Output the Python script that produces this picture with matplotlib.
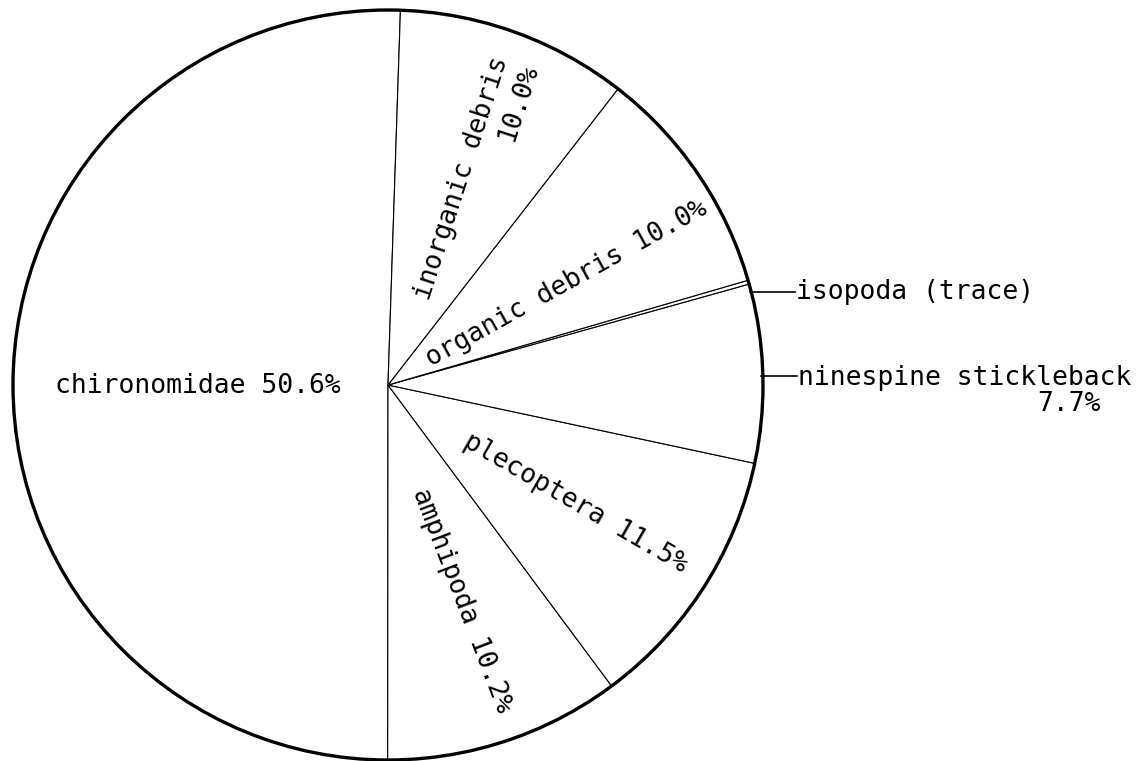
import matplotlib
matplotlib.use("Agg")
import matplotlib.pyplot as plt
from matplotlib.patches import Circle

# diet composition (percent), drawn counterclockwise from near the top
categories = ["chironomidae", "amphipoda", "plecoptera", "ninespine stickleback",
              "isopoda", "organic debris", "inorganic debris"]
percents = [50.6, 10.2, 11.5, 7.7, 0.17, 10.0, 10.0]
pct_labels = ["50.6%", "10.2%", "11.5%", "7.7%", "(trace)", "10.0%", "10.0%"]

plt.rcParams['font.family'] = ['DejaVu Sans Mono', 'DejaVu Sans']
fs = 19

fig = plt.figure(figsize=(11.42, 7.61), dpi=100)
ax = fig.add_axes([0, 0, 1, 1])

cx, cy, r = 388, 385, 375
# y axis is inverted below, so clockwise in data = counterclockwise on screen
ax.pie(percents, center=(cx, cy), radius=r, startangle=-88.1, counterclock=False,
       colors=['white'] * len(percents),
       wedgeprops=dict(edgecolor='black', linewidth=0.8), frame=True)
ax.set_xlim(0, 1142)
ax.set_ylim(761, 0)   # image-like coordinates
ax.set_aspect('equal')
ax.axis('off')
ax.add_patch(Circle((cx, cy), r, fill=False, edgecolor='black', linewidth=2.4))

# labels inside the wedges
ax.text(198, 386, categories[0] + " " + pct_labels[0], fontsize=fs,
        ha='center', va='center')
ax.text(462, 600, categories[1] + " " + pct_labels[1], fontsize=fs,
        ha='center', va='center', rotation=-69, rotation_mode='anchor')
ax.text(575, 503, categories[2] + " " + pct_labels[2], fontsize=fs,
        ha='center', va='center', rotation=-30, rotation_mode='anchor')
ax.text(567, 284, categories[5] + " " + pct_labels[5], fontsize=fs,
        ha='center', va='center', rotation=29, rotation_mode='anchor')
ax.text(462, 178, categories[6], fontsize=fs,
        ha='center', va='center', rotation=72, rotation_mode='anchor')
ax.text(518, 102, pct_labels[6], fontsize=fs,
        ha='center', va='center', rotation=72, rotation_mode='anchor')

# labels outside with leader lines
ax.plot([750, 795], [292, 292], color='black', linewidth=1.2)
ax.text(796, 292, categories[4] + " " + pct_labels[4], fontsize=fs,
        ha='left', va='center')
ax.plot([761, 797], [376, 376], color='black', linewidth=1.2)
ax.text(798, 378, categories[3], fontsize=fs, ha='left', va='center')
ax.text(1069, 404, pct_labels[3], fontsize=fs, ha='center', va='center')

fig.savefig("out.png", dpi=100, facecolor='white')
